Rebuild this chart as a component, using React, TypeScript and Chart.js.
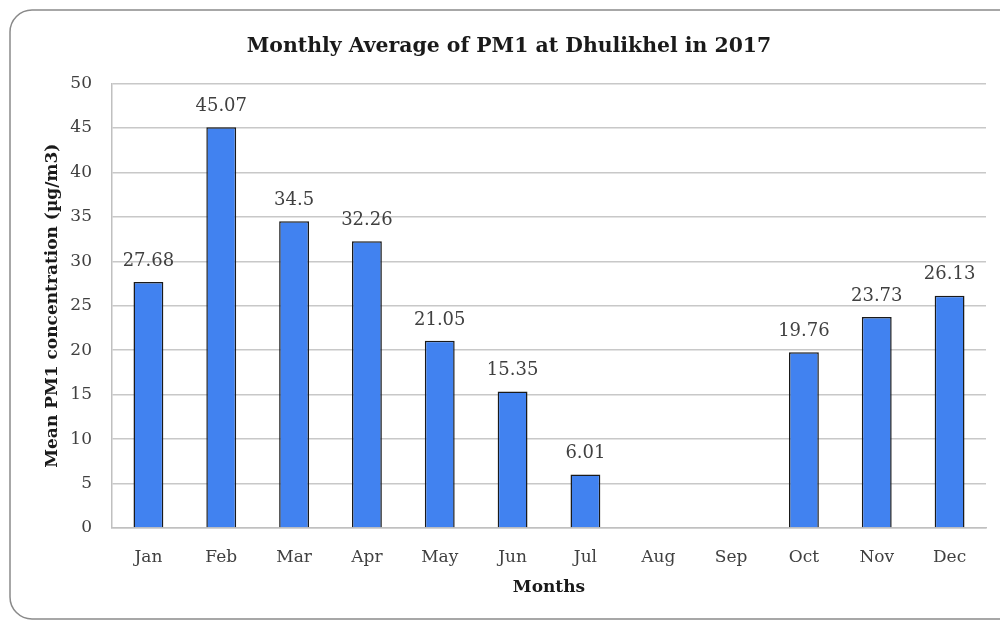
import React, { useEffect, useRef } from "react";
import { Chart, registerables } from "chart.js";

Chart.register(...registerables);

const months = ["Jan", "Feb", "Mar", "Apr", "May", "Jun", "Jul", "Aug", "Sep", "Oct", "Nov", "Dec"];
const pm1Values: (number | null)[] = [27.68, 45.07, 34.5, 32.26, 21.05, 15.35, 6.01, null, null, 19.76, 23.73, 26.13];
const valueLabels: string[] = ["27.68", "45.07", "34.5", "32.26", "21.05", "15.35", "6.01", "", "", "19.76", "23.73", "26.13"];
const yMin = 0;
const yMax = 50;
const yStep = 5;

const FONT = "'DejaVu Serif', serif";

const framePlugin = {
  id: "frame",
  beforeDraw(chart: any) {
    const ctx = chart.ctx;
    ctx.save();
    ctx.fillStyle = "#ffffff";
    ctx.fillRect(0, 0, chart.width, chart.height);
    const x = 10, y = 10, w = chart.width + 30, h = chart.height - 12, r = 22;
    ctx.beginPath();
    ctx.moveTo(x + r, y);
    ctx.lineTo(x + w - r, y);
    ctx.arcTo(x + w, y, x + w, y + r, r);
    ctx.lineTo(x + w, y + h - r);
    ctx.arcTo(x + w, y + h, x + w - r, y + h, r);
    ctx.lineTo(x + r, y + h);
    ctx.arcTo(x, y + h, x, y + h - r, r);
    ctx.lineTo(x, y + r);
    ctx.arcTo(x, y, x + r, y, r);
    ctx.closePath();
    ctx.strokeStyle = "#8a8a8a";
    ctx.lineWidth = 1.5;
    ctx.stroke();
    ctx.restore();
  },
};

const labelPlugin = {
  id: "valueLabels",
  afterDatasetsDraw(chart: any) {
    const ctx = chart.ctx;
    const meta = chart.getDatasetMeta(0);
    ctx.save();
    ctx.font = `18px ${FONT}`;
    ctx.fillStyle = "#404040";
    ctx.textAlign = "center";
    ctx.textBaseline = "middle";
    meta.data.forEach((bar: any, i: number) => {
      const v = pm1Values[i];
      if (v === null || v === undefined) return;
      ctx.fillText(valueLabels[i], bar.x, bar.y - 21);
    });
    ctx.restore();
  },
};

export default function App() {
  const ref = useRef<HTMLCanvasElement | null>(null);
  useEffect(() => {
    if (!ref.current) return;
    const chart = new Chart(ref.current, {
      type: "bar",
      data: {
        labels: months,
        datasets: [
          {
            data: pm1Values as any,
            backgroundColor: "#4182f0",
            borderColor: "#1a1a1a",
            borderWidth: 1.5,
            barPercentage: 0.41,
            categoryPercentage: 1,
          },
        ],
      },
      options: {
        animation: false,
        responsive: false,
        maintainAspectRatio: false,
        layout: { padding: { left: 32, right: 14, top: 34, bottom: 23 } },
        plugins: {
          legend: { display: false },
          tooltip: { enabled: false },
          title: {
            display: true,
            text: "Monthly Average of PM1 at Dhulikhel in 2017",
            color: "#1a1a1a",
            font: { family: FONT, size: 20.4, weight: "bold" },
            padding: { top: 0, bottom: 25 },
          },
        },
        scales: {
          x: {
            grid: { display: false, drawTicks: false },
            border: { display: true, color: "#c0c0c0", width: 1.5 },
            ticks: { color: "#404040", font: { family: FONT, size: 17 }, padding: 19 },
            title: {
              display: true,
              text: "Months",
              color: "#1a1a1a",
              font: { family: FONT, size: 17, weight: "bold" },
              padding: { top: 10, bottom: 0 },
            },
            afterFit: (scale: any) => {
              scale.height = 70;
            },
          },
          y: {
            min: yMin,
            max: yMax,
            grid: { color: "#c8c8c8", lineWidth: 1.5, drawTicks: false },
            border: { display: true, color: "#c0c0c0", width: 1.5 },
            ticks: { stepSize: yStep, color: "#404040", font: { family: FONT, size: 17 }, padding: 20 },
            title: {
              display: true,
              text: "Mean PM1 concentration (µg/m3)",
              color: "#1a1a1a",
              font: { family: FONT, size: 17, weight: "bold" },
              padding: { top: 10, bottom: 8 },
            },
            afterFit: (scale: any) => {
              scale.width = 80;
            },
          },
        },
      },
      plugins: [framePlugin, labelPlugin],
    });
    return () => chart.destroy();
  }, []);
  return (
    <div style={{ position: "absolute", left: 0, top: 0, width: 1000, height: 621 }}>
      <canvas ref={ref} width={1000} height={621} style={{ display: "block", width: 1000, height: 621 }} />
    </div>
  );
}
